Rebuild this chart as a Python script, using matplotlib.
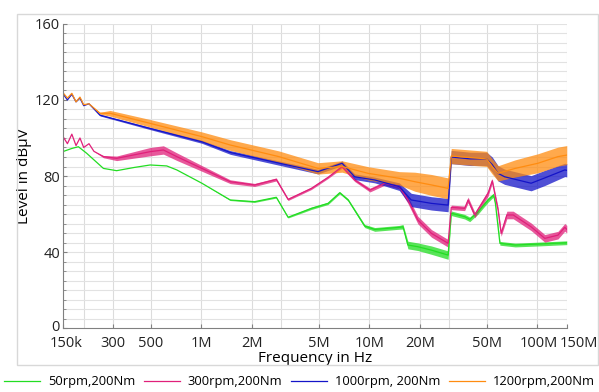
import numpy as np
import matplotlib.pyplot as plt
from matplotlib.patches import Rectangle
from matplotlib.transforms import ScaledTranslation

plt.rcParams['font.family'] = ['Open Sans', 'DejaVu Sans']

# 50rpm, 200Nm
f_50 = [150e3, 170e3, 186e3, 208e3, 262e3, 314e3, 400e3, 497e3, 624e3, 716e3, 1.01e6, 1.49e6,
        2.08e6, 2.8e6, 3.29e6, 4.53e6, 5.69e6, 6.68e6, 7.5e6, 9.4e6, 10.8e6, 15.1e6, 15.9e6,
        17e6, 19.5e6, 23.5e6, 29.5e6, 30.8e6, 37e6, 39.7e6, 44.5e6, 51e6, 55e6, 56.4e6, 60e6,
        74e6, 101e6, 150e6]
lv_50 = [92.8, 94.5, 95.4, 92.0, 84.0, 82.8, 84.5, 85.8, 85.3, 83.2, 76.2, 67.4,
         66.5, 68.8, 58.3, 63.0, 65.6, 71.2, 67.4, 53.7, 51.9, 53.0, 53.3,
         43.7, 42.8, 41.0, 38.4, 60.4, 58.6, 57.2, 61.2, 67.4, 70.0, 65.6, 44.6,
         43.7, 44.2, 44.9]
nz_50 = [0, 0, 0, 0, 0, 0, 0, 0, 0, 0, 0, 0.3,
         0.4, 0.4, 0.4, 0.6, 0.6, 0.6, 0.6, 0.8, 1.0, 1.0, 1.2,
         2.0, 2.0, 2.2, 2.2, 1.2, 1.2, 1.2, 1.2, 1.2, 1.0, 1.0, 1.0,
         1.0, 1.0, 1.0]

# 300rpm, 200Nm
f_300 = [150e3, 160e3, 170e3, 180e3, 190e3, 200e3, 215e3, 230e3, 262e3, 314e3, 497e3, 596e3,
         716e3, 1.01e6, 1.49e6, 2.08e6, 2.8e6, 3.29e6, 4.53e6, 5.69e6, 6.9e6, 8.2e6, 10.1e6,
         12.4e6, 15.1e6, 17e6, 19.5e6, 23.5e6, 29.5e6, 30.8e6, 37e6, 38.8e6, 42.5e6, 51e6,
         54e6, 58.5e6, 61e6, 66e6, 72e6, 92e6, 111e6, 133e6, 146e6, 150e6]
lv_300 = [101.0, 97.0, 102.0, 96.0, 100.0, 95.0, 97.0, 93.0, 90.2, 89.3, 92.8, 93.7,
          90.2, 84.0, 77.0, 75.3, 78.2, 67.7, 73.5, 79.3, 84.9, 77.9, 72.6,
          76.2, 74.4, 67.4, 56.8, 49.8, 44.6, 63.5, 63.0, 67.4, 59.5, 70.9,
          77.5, 62.1, 49.8, 59.5, 59.5, 53.3, 47.2, 48.9, 53.0, 52.0]
nz_300 = [0, 0, 0, 0, 0, 0, 0, 0, 0.6, 1.2, 2.2, 2.2,
          2.0, 1.5, 1.0, 0.8, 0.8, 0.6, 0.6, 0.6, 0.8, 0.8, 1.0,
          1.0, 1.2, 1.8, 2.0, 2.0, 2.0, 1.2, 1.2, 1.5, 1.5, 1.5,
          1.2, 1.5, 1.5, 2.0, 2.0, 2.0, 2.0, 2.0, 2.0, 2.0]

# 1000rpm, 200Nm
f_1000 = [150e3, 160e3, 170e3, 180e3, 190e3, 200e3, 215e3, 250e3, 497e3, 1.01e6, 1.49e6,
          4.96e6, 6.9e6, 8.2e6, 10.8e6, 15.1e6, 17.8e6, 23.5e6, 29.5e6, 30.8e6, 40e6, 50e6,
          54e6, 58.5e6, 64e6, 92e6, 111e6, 146e6, 150e6]
lv_1000 = [123.5, 120.0, 123.0, 119.0, 121.0, 117.0, 118.0, 112.0, 105.0, 98.0, 92.4,
           82.3, 86.7, 79.6, 77.9, 74.4, 67.4, 65.6, 64.7, 90.0, 89.0, 89.0,
           86.0, 81.4, 79.6, 76.2, 79.0, 83.2, 83.0]
nz_1000 = [0, 0, 0, 0, 0, 0, 0, 0.4, 0.6, 0.8, 1.0,
           1.2, 1.2, 1.5, 1.5, 2.0, 3.5, 3.5, 3.5, 3.5, 3.5, 3.5,
           4.0, 4.0, 4.0, 4.0, 4.0, 3.5, 3.5]

# 1200rpm, 200Nm
f_1200 = [150e3, 160e3, 170e3, 180e3, 190e3, 200e3, 215e3, 250e3, 287e3, 497e3, 1.01e6,
          1.49e6, 2.9e6, 4.96e6, 6.9e6, 9.85e6, 15.1e6, 18.7e6, 23.5e6, 29.5e6, 30.8e6, 50e6,
          54e6, 58.5e6, 74e6, 101e6, 133e6, 150e6]
lv_1200 = [124.0, 121.0, 123.5, 119.0, 121.5, 117.5, 118.0, 113.0, 113.0, 107.7, 100.7,
           96.3, 90.2, 84.0, 85.0, 81.4, 78.8, 77.0, 75.3, 73.5, 90.5, 89.0,
           85.0, 81.4, 84.0, 86.7, 90.2, 91.0]
nz_1200 = [0, 0, 0, 0, 0, 0, 0, 0.5, 1.5, 2.0, 2.5,
           2.8, 3.0, 3.0, 3.0, 3.5, 3.5, 5.0, 5.5, 5.5, 4.0, 4.0,
           4.0, 4.0, 4.5, 5.0, 5.0, 5.0]

series = [
    ('50rpm,200Nm', f_50, lv_50, nz_50, '#22dd22'),
    ('300rpm,200Nm', f_300, lv_300, nz_300, '#e0207a'),
    ('1000rpm, 200Nm', f_1000, lv_1000, nz_1000, '#1414c8'),
    ('1200rpm,200Nm', f_1200, lv_1200, nz_1200, '#ff8c10'),
]

xticks = [150e3, 300e3, 500e3, 1e6, 2e6, 5e6, 10e6, 20e6, 50e6, 100e6, 150e6]
xlabels = ['150k', '300', '500', '1M', '2M', '5M', '10M', '20M', '50M', '100M', '150M']
xgrid = [150e3, 200e3, 300e3, 500e3, 1e6, 2e6, 3e6, 5e6, 10e6, 20e6, 30e6, 50e6, 100e6, 150e6]

fig = plt.figure(figsize=(5.99, 3.92), dpi=100)
ax = fig.add_axes([0.1047, 0.163, 0.8415, 0.776])

for lab, f, lv, nz, col in series:
    f = np.array(f)
    lv = np.array(lv)
    nz = np.array(nz)
    ax.fill_between(f, lv - nz, lv + nz, color=col, alpha=0.75, lw=0)
    ax.plot(f, lv, color=col, lw=0.9, label=lab)

ax.set_xscale('log')
ax.set_xlim(150e3, 150e6)
ax.set_ylim(0, 160)
ax.set_xticks(xticks)
ax.set_xticklabels(xlabels)
ax.set_xticks([], minor=True)
ax.set_yticks([0, 40, 80, 120, 160])
ax.set_yticks(np.arange(0, 161, 5), minor=True)

for g in xgrid:
    ax.axvline(g, color='#dcdcdc', lw=0.8, zorder=0)
for g in np.arange(5, 161, 5):
    ax.axhline(g, color='#e2e2e2', lw=0.8, zorder=0)

for s in ['top', 'right']:
    ax.spines[s].set_visible(False)
for s in ['left', 'bottom']:
    ax.spines[s].set_color('#808080')
ax.tick_params(axis='both', colors='#222222', length=3, direction='in')
ax.tick_params(axis='y', labelsize=10.5, pad=2)
ax.tick_params(axis='x', labelsize=10.5, pad=6)
ax.tick_params(axis='y', which='minor', length=2, direction='in', color='#808080')
ax.tick_params(axis='both', which='major', color='#808080')

# nudge end labels like the original (they sit slightly inside/right)
ylabs = ax.get_yticklabels()
ylabs[0].set_transform(ylabs[0].get_transform() + ScaledTranslation(0, 3 / 100, fig.dpi_scale_trans))
xl = ax.get_xticklabels()
xl[0].set_transform(xl[0].get_transform() + ScaledTranslation(3 / 100, 0, fig.dpi_scale_trans))
xl[-2].set_transform(xl[-2].get_transform() + ScaledTranslation(2 / 100, 0, fig.dpi_scale_trans))
xl[-1].set_transform(xl[-1].get_transform() + ScaledTranslation(12 / 100, 0, fig.dpi_scale_trans))

ax.set_xlabel('Frequency in Hz', fontsize=11, labelpad=0)
ax.set_ylabel('Level in dBµV', fontsize=11, labelpad=2)

fig.patches.append(Rectangle((0.028, 0.069), 0.97, 0.895, transform=fig.transFigure,
                             fill=False, edgecolor='#d8d8d8', lw=1))

fig.legend(loc='lower left', bbox_to_anchor=(0.0, 0.0, 1.0, 0.05), mode='expand', ncol=4,
           frameon=False, fontsize=9.3, handlelength=2.8, handletextpad=0.6,
           borderaxespad=0.2, borderpad=0.1)

fig.savefig('out.png', dpi=100)
